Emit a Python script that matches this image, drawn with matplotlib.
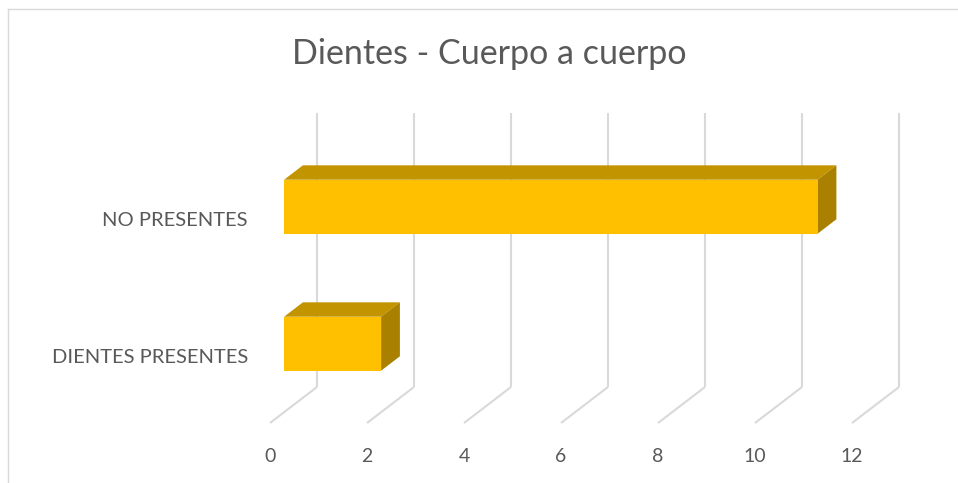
import matplotlib
matplotlib.use('Agg')
import matplotlib.pyplot as plt
from matplotlib.patches import Polygon
from matplotlib.lines import Line2D

# ---- data ----
categories = ['DIENTES PRESENTES', 'NO PRESENTES']
values = [2, 11]
ticks = [0, 2, 4, 6, 8, 10, 12]
title = 'Dientes - Cuerpo a cuerpo'

# ---- style ----
FONT = ['Lato', 'DejaVu Sans']
TXT = '#595959'
GRID = '#D9D9D9'
C_FRONT = '#FFC000'
C_TOP = '#C29400'
C_SIDE = '#A98000'

W, H = 958, 483
fig = plt.figure(figsize=(W / 100, H / 100), dpi=100)
ax = fig.add_axes([0, 0, 1, 1])
ax.axis('off')

# layout (pixels)
px_per_val = 48.5
px_per_cat = 137.0
x0_mid = 293.5      # value 0 on mid-depth plane
floor_mid = 405.0   # floor on mid-depth plane
depth_dx = 47.0
depth_dy = 36.0

ax.set_xlim(-x0_mid / px_per_val, (W - x0_mid) / px_per_val)
ax.set_ylim((floor_mid - H) / px_per_cat, floor_mid / px_per_cat)

DX = depth_dx / px_per_val
DY = depth_dy / px_per_cat
ncat = len(categories)


def P(v, h, d):
    return (v + d * DX, h + d * DY)


# gridlines: back wall verticals + floor diagonals
for t in ticks:
    xs, ys = zip(P(t, 0, 0.5), P(t, ncat, 0.5))
    ax.plot(xs, ys, color=GRID, lw=1.5, solid_capstyle='butt')
    xs, ys = zip(P(t, 0, -0.5), P(t, 0, 0.5))
    ax.plot(xs, ys, color=GRID, lw=1.5, solid_capstyle='butt')

# 3D bars
hh = 0.197
dd = 0.2
for i, val in enumerate(values):
    c = i + 0.5
    lo, hi = c - hh, c + hh
    front = [P(0, lo, -dd), P(val, lo, -dd), P(val, hi, -dd), P(0, hi, -dd)]
    top = [P(0, hi, -dd), P(val, hi, -dd), P(val, hi, dd), P(0, hi, dd)]
    side = [P(val, lo, -dd), P(val, lo, dd), P(val, hi, dd), P(val, hi, -dd)]
    ax.add_patch(Polygon(top, closed=True, facecolor=C_TOP, edgecolor='none', zorder=3))
    ax.add_patch(Polygon(side, closed=True, facecolor=C_SIDE, edgecolor='none', zorder=3))
    ax.add_patch(Polygon(front, closed=True, facecolor=C_FRONT, edgecolor='none', zorder=4))

# value tick labels (front of floor)
lab_off = 33.5 / px_per_cat
for t in ticks:
    x, y = P(t, 0, -0.5)
    ax.text(x, y - lab_off, str(t), ha='center', va='center', fontsize=14,
            color=TXT, family=FONT)

# category labels (front plane)
cat_gap = 22.0 / px_per_val
cat_dy = 3.0 / px_per_cat
for i, name in enumerate(categories):
    x, y = P(0, i + 0.5, -0.5)
    ax.text(x - cat_gap, y - cat_dy, name, ha='right', va='center', fontsize=14.5,
            color=TXT, family=FONT)

# title
fig.text(489 / W, 1 - 53.5 / H, title, ha='center', va='center', fontsize=24.5,
         color=TXT, family=FONT)

# chart border (top and left visible)
fig.add_artist(Line2D([8 / W, 1], [1 - 8.5 / H, 1 - 8.5 / H], color=GRID, lw=1,
                      transform=fig.transFigure))
fig.add_artist(Line2D([8 / W, 8 / W], [1 - 8.5 / H, 0], color=GRID, lw=1,
                      transform=fig.transFigure))

fig.savefig('out.png', dpi=100, facecolor='white')
